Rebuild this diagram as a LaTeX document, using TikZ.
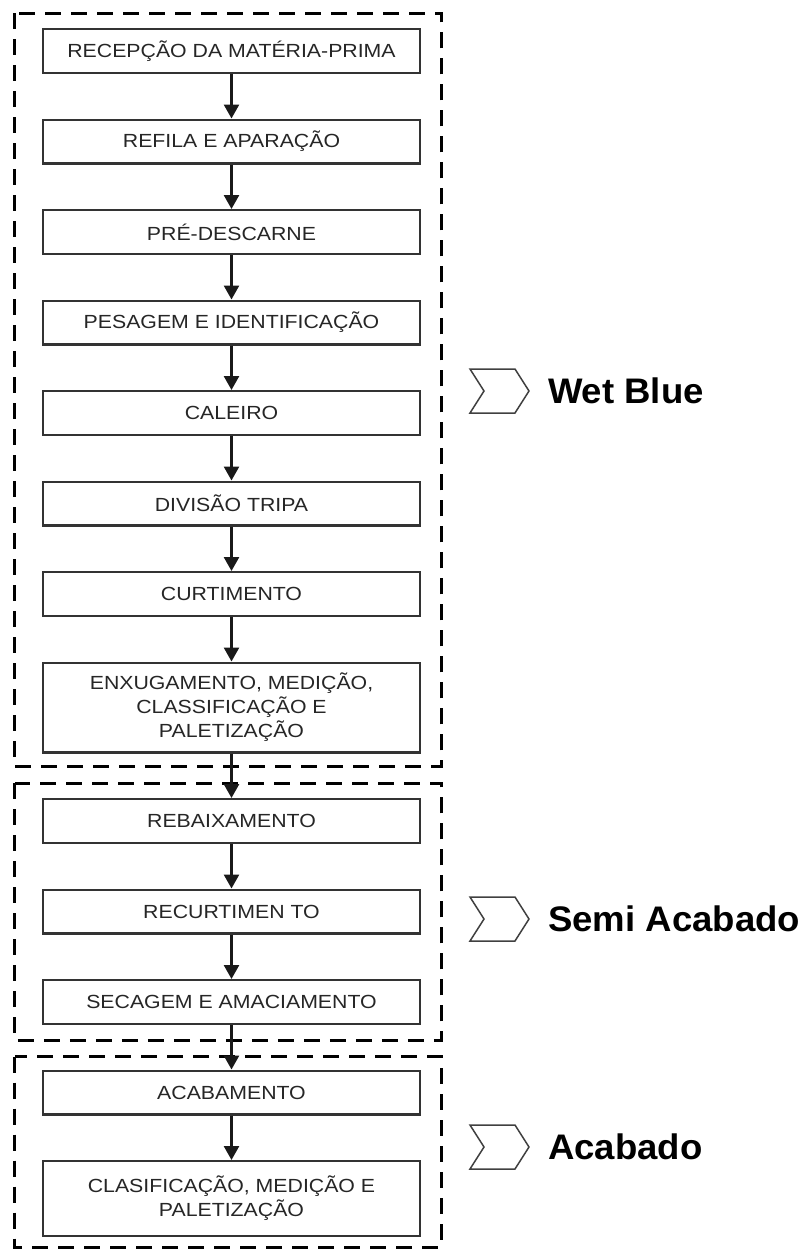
\documentclass[tikz,border=0pt]{standalone}
\usepackage{fontspec}
\setmainfont{Liberation Sans}
\newfontfamily\boxfont[FakeStretch=1.12]{Liberation Sans}
\newfontfamily\tagfont[FakeStretch=1.03]{Liberation Sans}
\usetikzlibrary{positioning,arrows.meta,shapes.symbols}

\begin{document}
\begin{tikzpicture}[
  x=1pt, y=-1pt, >={Triangle[width=15pt,length=14pt]},
  stage/.style={rectangle, draw=black!80, line width=2.4pt, fill=white,
    minimum width=377pt, minimum height=43.6pt, align=center, inner sep=2pt,
    text=black!85, font=\boxfont\fontsize{19}{24}\selectfont},
  flow/.style={->, line width=2.6pt, draw=black!90},
  grp/.style={draw=black, line width=3pt, dash pattern=on 16pt off 10pt},
  chev/.style={signal, signal to=east, signal from=west, signal pointer angle=115,
    draw=black!75, line width=1.5pt, minimum width=59pt, minimum height=44pt, inner sep=0pt},
  tag/.style={font=\tagfont\bfseries\fontsize{35.5}{40}\selectfont, inner sep=0pt}
]
\useasboundingbox (0,0) rectangle (807,1251);
% process steps
\node[stage, anchor=north] (s1) at (231.5,28) {RECEPÇÃO DA MATÉRIA-PRIMA};
\node[stage, below=44.5pt of s1] (s2) {REFILA E APARAÇÃO};
\node[stage, below=44.5pt of s2] (s3) {PRÉ-DESCARNE};
\node[stage, below=44.5pt of s3] (s4) {PESAGEM E IDENTIFICAÇÃO};
\node[stage, below=44.5pt of s4] (s5) {CALEIRO};
\node[stage, below=44.5pt of s5] (s6) {DIVISÃO TRIPA};
\node[stage, below=44.5pt of s6] (s7) {CURTIMENTO};
\node[stage, below=44.5pt of s7, minimum height=89.6pt] (s8) {ENXUGAMENTO, MEDIÇÃO,\\CLASSIFICAÇÃO E\\PALETIZAÇÃO};
\node[stage, below=44.5pt of s8] (s9) {REBAIXAMENTO};
\node[stage, below=44.5pt of s9] (s10) {RECURTIMEN TO};
\node[stage, below=44.5pt of s10] (s11) {SECAGEM E AMACIAMENTO};
\node[stage, below=44.5pt of s11] (s12) {ACABAMENTO};
\node[stage, below=44.5pt of s12, minimum height=74.6pt] (s13) {CLASIFICAÇÃO, MEDIÇÃO E\\PALETIZAÇÃO};
% phase frames
\draw[grp] ([shift={(-27pt,15pt)}]s1.north west) rectangle ([shift={(20pt,-13pt)}]s8.south east);
\draw[grp] ([shift={(-27pt,15pt)}]s9.north west) rectangle ([shift={(20pt,-15pt)}]s11.south east);
\draw[grp] ([shift={(-27pt,13pt)}]s12.north west) rectangle ([shift={(20pt,-10pt)}]s13.south east);
% arrows
\foreach \a/\b in {s1/s2, s2/s3, s3/s4, s4/s5, s5/s6, s6/s7, s7/s8, s8/s9, s9/s10, s10/s11, s11/s12, s12/s13}
  \draw[flow] (\a.south) -- (\b.north);
% phase labels
\node[chev] (c1) at (499.5,391) {};
\node[tag, right=18pt of c1] (t1) {Wet Blue};
\node[chev] (c2) at (499.5,919) {};
\node[tag, right=18pt of c2] (t2) {Semi Acabado};
\node[chev] (c3) at (499.5,1147) {};
\node[tag, right=18pt of c3] (t3) {Acabado};
\end{tikzpicture}
\end{document}
